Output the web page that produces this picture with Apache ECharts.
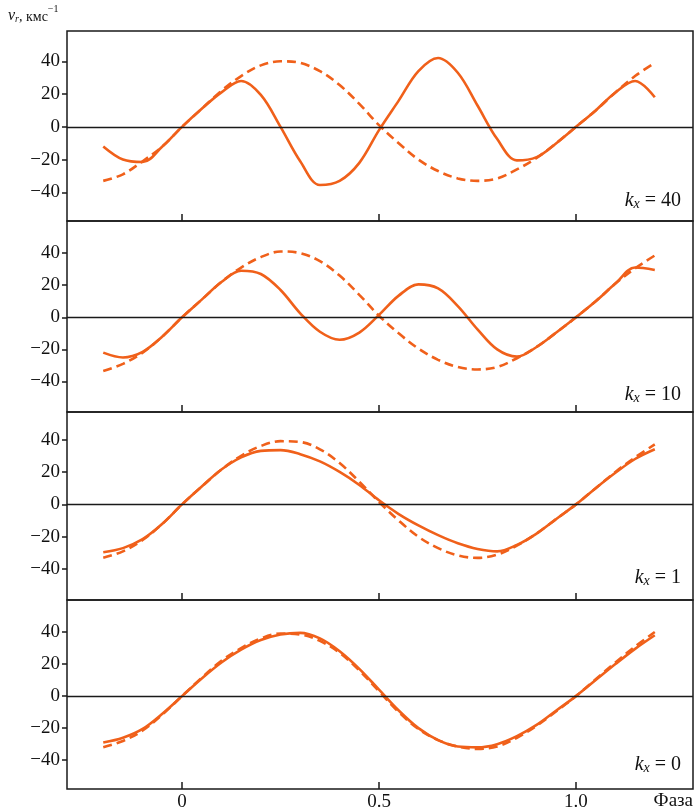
<!DOCTYPE html>
<html>
<head>
<meta charset="utf-8">
<script src="https://cdn.jsdelivr.net/npm/echarts@6/dist/echarts.min.js"></script>
<style>
html,body{margin:0;padding:0;background:#fff;}
#c{width:695px;height:812px;}
</style>
</head>
<body>
<div id="c"></div>
<script>
// Phase grid (shared by all curves)
var phase = [-0.2,-0.15,-0.1,-0.05,0,0.05,0.1,0.15,0.2,0.25,0.3,0.35,0.4,0.45,0.5,0.55,0.6,0.65,0.7,0.75,0.8,0.85,0.9,0.95,1.0,1.05,1.1,1.15,1.2];

// k_x = 40
var solid40  = [-12,-20,-21.5,-12,0,11,21,28,19.5,0,-21,-35.5,-33,-22,-2,16,34,42,33,13,-7.5,-20.5,-18.5,-10,0,10,21,28,18];
var dashed40 = [-33,-29,-21,-12,0,11,22,31,37.5,40,39,34,25.5,14,1,-10,-20,-27,-31.5,-33,-31.5,-26,-19,-10,0,10,21,31,39];
// k_x = 10
var solid10  = [-22,-25,-21.5,-12,0,11,22,29,27,17,2.5,-9,-14,-9.5,1.5,13.5,20.5,18,7,-7.5,-20,-24.5,-18.5,-9.5,0,10,21,31,29.5];
var dashed10 = [-33.5,-29,-22,-12,0,11,22,31,37.5,41,40,35,26,14,1,-10,-19.5,-26.5,-31,-32.5,-31,-25.5,-18.5,-9.5,0,10,21,30.5,38.5];
// k_x = 1
var solid1   = [-29.5,-27,-21.5,-12,0,11,21.5,29,33,33.5,31,26.5,20,12,2.5,-6,-13,-19,-24,-27.5,-29,-25,-18,-9,0,10,19.5,28,34];
var dashed1  = [-33,-29,-22,-12,0,11,21.5,30,36,39,38.5,34,25.5,14,1.5,-10,-20,-27,-31.5,-33,-31,-25.5,-18,-9,0,10,20,29,37];
// k_x = 0
var solid0   = [-29,-26,-20.5,-11,0,11,21,29,35,38.5,39.5,36,28,17,4,-9,-20,-27.5,-31.5,-32,-30,-25,-18,-9,0,10,20,29.5,38];
var dashed0  = [-32,-28,-21.5,-11.5,0,11.5,22,30,36,39,38.5,34.5,27,16,3,-10,-20.5,-27.5,-31.5,-33,-31.5,-26,-18.5,-9.5,0,10.5,21,31,40];

var panelLabels = ['40','10','1','0'];
var yTicks = [-40,-20,0,20,40];
var xTicks = [0,0.5,1.0];
var xTickText = {'0':'0','0.5':'0.5','1':'1.0'};

var solids = [solid40, solid10, solid1, solid0];
var dashes = [dashed40, dashed10, dashed1, dashed0];

var gridTops = [31,221,412,600];
var gridHeights = [190,191,188,190];
var yMins = [-57.5,-59,-59,-58];
var yMaxs = [58.5,60,57,60];
var labelY = [191,385,568,755];

var ORANGE = '#f0601a';
var FONT = '"Liberation Serif", "DejaVu Serif", serif';

function pairs(vals){ return phase.map(function(p,i){ return [p, vals[i]]; }); }

var grids=[], xAxes=[], yAxes=[], series=[], graphics=[];
for (var i=0;i<4;i++){
  grids.push({left:67, right:2, top:gridTops[i], height:gridHeights[i], show:true, borderColor:'#1a1a1a', borderWidth:1.5});
  xAxes.push({
    type:'value', gridIndex:i, min:-0.292, max:1.297,
    axisLine:{show:false, onZero:false}, splitLine:{show:false},
    axisTick:{show:true, inside:true, length:7, customValues:xTicks, lineStyle:{color:'#1a1a1a', width:1.5}},
    axisLabel:{show:i===3, customValues:xTicks, margin:4, color:'#111', fontFamily:FONT, fontSize:19,
      formatter:function(v){ return xTickText[String(v)] !== undefined ? xTickText[String(v)] : String(v); }}
  });
  yAxes.push({
    type:'value', gridIndex:i, min:yMins[i], max:yMaxs[i],
    axisLine:{show:false, onZero:false}, splitLine:{show:false},
    axisTick:{show:true, inside:false, length:5, customValues:yTicks, lineStyle:{color:'#1a1a1a', width:1.5}},
    axisLabel:{show:true, customValues:yTicks, margin:7, color:'#111', fontFamily:FONT, fontSize:19,
      formatter:function(v){ return v<0 ? '\u2212'+Math.abs(v) : String(v); }}
  });
  series.push({
    type:'line', xAxisIndex:i, yAxisIndex:i, data:pairs(dashes[i]), smooth:0.35, showSymbol:false,
    lineStyle:{color:ORANGE, width:2.6, type:[9,5]}, z:3
  });
  series.push({
    type:'line', xAxisIndex:i, yAxisIndex:i, data:pairs(solids[i]), smooth:0.35, showSymbol:false,
    lineStyle:{color:ORANGE, width:2.6, type:'solid'}, z:4,
    markLine:{silent:true, symbol:['none','none'], label:{show:false}, animation:false,
      lineStyle:{color:'#1a1a1a', width:1.4, type:'solid'}, data:[{yAxis:0}]}
  });
  graphics.push({
    type:'text', right:14, top:labelY[i],
    style:{
      text:'{k|k}{s|x}{n| = '+panelLabels[i]+'}',
      rich:{
        k:{fontFamily:FONT, fontStyle:'italic', fontSize:20, fill:'#111', verticalAlign:'bottom', lineHeight:24},
        s:{fontFamily:FONT, fontStyle:'italic', fontSize:14, fill:'#111', verticalAlign:'bottom', lineHeight:10},
        n:{fontFamily:FONT, fontSize:20, fill:'#111', verticalAlign:'bottom', lineHeight:24}
      }
    }
  });
}

graphics.push({
  type:'text', left:8, top:4,
  style:{
    text:'{v|v}{r|r}{t|, кмс}{e|\u22121}',
    rich:{
      v:{fontFamily:FONT, fontStyle:'italic', fontSize:16, fill:'#111', verticalAlign:'bottom', lineHeight:20},
      r:{fontFamily:FONT, fontStyle:'italic', fontSize:10, fill:'#111', verticalAlign:'bottom', lineHeight:12},
      t:{fontFamily:FONT, fontSize:14, fill:'#111', verticalAlign:'bottom', lineHeight:20},
      e:{fontFamily:FONT, fontSize:10, fill:'#111', verticalAlign:'top', lineHeight:14}
    }
  }
});
graphics.push({
  type:'text', right:2, top:792,
  style:{text:'Фаза', fontFamily:FONT, fontSize:19, fill:'#111'}
});

var chart = echarts.init(document.getElementById('c'), null, {renderer:'canvas'});
chart.setOption({
  animation:false,
  backgroundColor:'#fff',
  grid:grids, xAxis:xAxes, yAxis:yAxes, series:series, graphic:graphics
});
</script>
</body>
</html>
